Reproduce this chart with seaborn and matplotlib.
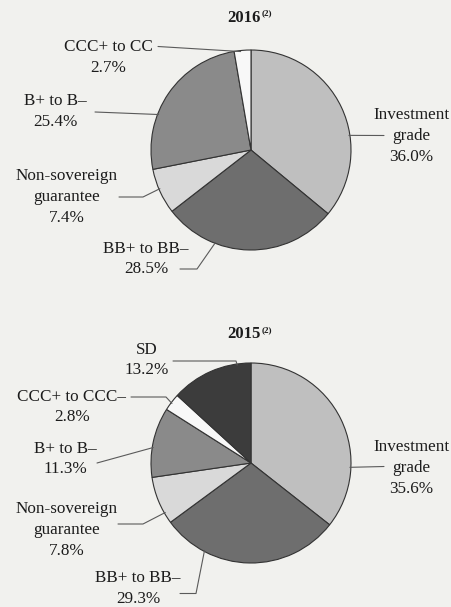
import matplotlib
matplotlib.use("Agg")
import matplotlib.pyplot as plt
import seaborn as sns
import numpy as np

# ---- data ----
years = ["2016", "2015"]
cats_2016 = ["Investment\ngrade", "BB+ to BB–", "Non-sovereign\nguarantee", "B+ to B–", "CCC+ to CC"]
vals_2016 = [36.0, 28.5, 7.4, 25.4, 2.7]
cats_2015 = ["Investment\ngrade", "BB+ to BB–", "Non-sovereign\nguarantee", "B+ to B–", "CCC+ to CCC–", "SD"]
vals_2015 = [35.6, 29.3, 7.8, 11.3, 2.8, 13.2]
colors_2016 = ["#bfbfbf", "#6e6e6e", "#d9d9d9", "#8a8a8a", "#f8f8f8"]
colors_2015 = ["#bfbfbf", "#6e6e6e", "#d9d9d9", "#8a8a8a", "#f8f8f8", "#3c3c3c"]

sns.set_theme(style="white")
plt.rcParams["font.family"] = ["Liberation Serif", "DejaVu Serif"]
BG = "#f1f1ee"

W, H = 452, 607
fig = plt.figure(figsize=(W / 100, H / 100), dpi=100, facecolor=BG)
ax = fig.add_axes([0, 0, 1, 1])
ax.set_facecolor(BG)

FS = 12.3
LC = "#5a5a5a"


def draw(center, vals, cats, colors, labels):
    wedges, _ = ax.pie(vals, colors=colors, startangle=90, counterclock=False,
                       center=center, radius=1.0,
                       wedgeprops=dict(edgecolor="#333333", linewidth=0.8))
    for w, cat, v in zip(wedges, cats, vals):
        spec = labels[cat]
        lo, hi = sorted((w.theta1, w.theta2))
        a = lo + ((spec["ang"] - lo) % 360.0)
        a = np.clip(a, lo + 0.5, hi - 0.5)
        a = np.deg2rad(a)
        px = center[0] + np.cos(a) * 0.99
        py = center[1] + np.sin(a) * 0.99
        tx, ty = spec["text"]
        ax.text(tx, ty, f"{cat}\n{v:.1f}%", ha="center", va="center",
                fontsize=FS, linespacing=1.4, color="#1c1c1c")
        x0, y0 = spec["line0"]
        pts = [(x0, y0)]
        if "elbow" in spec:
            pts.append((spec["elbow"], y0))
        pts.append((px, py))
        xs, ys = zip(*pts)
        ax.plot(xs, ys, color=LC, lw=0.8)


def title(x, y, yr):
    ax.text(x, y, yr, ha="center", va="center", fontsize=12, fontweight="bold",
            color="#1c1c1c")
    ax.text(x + 0.175, y + 0.045, "(2)", ha="left", va="center", fontsize=6.5,
            fontweight="bold", color="#1c1c1c")


c16 = (2.51, -1.50)
title(2.44, -0.175, years[0])
draw(c16, vals_2016, cats_2016, colors_2016, {
    "Investment\ngrade": dict(text=(4.11, -1.36), line0=(3.84, -1.355), ang=8.5),
    "BB+ to BB–": dict(text=(1.46, -2.59), line0=(1.80, -2.69), elbow=(1.97), ang=249),
    "Non-sovereign\nguarantee": dict(text=(0.67, -1.97), line0=(1.19, -1.97), elbow=1.43, ang=203),
    "B+ to B–": dict(text=(0.555, -1.115), line0=(0.95, -1.12), ang=159),
    "CCC+ to CC": dict(text=(1.08, -0.575), line0=(1.58, -0.465), ang=96),
})

c15 = (2.51, -4.63)
title(2.44, -3.345, years[1])
draw(c15, vals_2015, cats_2015, colors_2015, {
    "Investment\ngrade": dict(text=(4.11, -4.68), line0=(3.84, -4.665), ang=-2.5),
    "BB+ to BB–": dict(text=(1.38, -5.885), line0=(1.80, -5.935), elbow=1.96, ang=242),
    "Non-sovereign\nguarantee": dict(text=(0.67, -5.30), line0=(1.18, -5.24), elbow=1.43, ang=210),
    "B+ to B–": dict(text=(0.65, -4.59), line0=(0.97, -4.63), ang=171),
    "CCC+ to CCC–": dict(text=(0.72, -4.07), line0=(1.31, -3.97), elbow=1.66, ang=143),
    "SD": dict(text=(1.47, -3.60), line0=(1.73, -3.61), elbow=2.36, ang=98),
})

ax.set_xlim(0, W / 100)
ax.set_ylim(-H / 100, 0)
ax.set_aspect("equal")
ax.axis("off")

fig.savefig("out.png", dpi=100, facecolor=BG)
